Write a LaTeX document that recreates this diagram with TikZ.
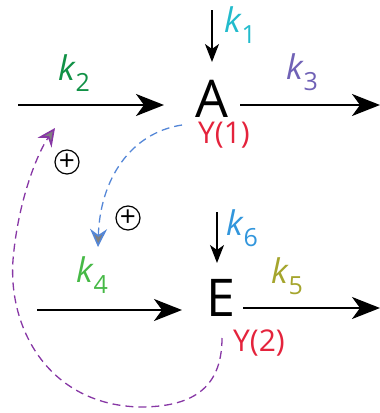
\documentclass[tikz,border=0pt]{standalone}
\usepackage{fontspec}
\setmainfont{Open Sans}
\usetikzlibrary{arrows.meta,positioning,calc}
\definecolor{kcyan}{RGB}{34,187,204}
\definecolor{kgreen}{RGB}{17,145,70}
\definecolor{kviolet}{RGB}{112,98,182}
\definecolor{klime}{RGB}{70,185,70}
\definecolor{kolive}{RGB}{165,165,45}
\definecolor{kblue}{RGB}{50,150,220}
\definecolor{yred}{RGB}{228,35,60}
\definecolor{dblue}{RGB}{85,135,215}
\definecolor{dpurple}{RGB}{135,55,165}
\newcommand{\rate}[1]{\textit{k}\raisebox{-0.6ex}{\fontsize{12.5}{12.5}\selectfont #1}}

\begin{document}
\begin{tikzpicture}[x=0.5pt,y=-0.5pt,
    species/.style={font=\fontsize{26}{26}\selectfont, inner sep=0pt},
    ratelbl/.style={font=\fontsize{17}{17}\selectfont, inner sep=0pt},
    yield/.style={font=\fontsize{15}{15}\selectfont, text=yred, inner sep=0pt},
    flux/.style={-{Stealth[length=14pt,width=11pt,inset=4pt]}, line width=1pt},
    feed/.style={-{Stealth[length=9pt,width=7pt,inset=2.5pt]}, line width=0.7pt},
    loop/.style={line width=0.65pt, dash pattern=on 4pt off 2.5pt},
    sign/.style={circle, draw, line width=0.6pt, inner sep=0pt, minimum size=12pt, font=\fontsize{14}{14}\selectfont}]
    \useasboundingbox (0,0) rectangle (380,413);
    % species
    \node[species] (A) at (212,99) {A};
    \node[species] (E) at (221,298) {E};
    \node[yield] (y1) at (224,135) {Y(1)};
    \node[yield] (y2) at (259,343) {Y(2)};
    % free ends
    \coordinate (a0) at (18,105);
    \coordinate (a1) at (164,105);
    \coordinate (ae) at (240,105);
    \coordinate (a2) at (380,105);
    \coordinate (e0) at (37,310);
    \coordinate (e1) at (182,310);
    \coordinate (ee) at (243,308);
    \coordinate (e2) at (380,308);
    \coordinate (t1) at (212,10);
    \coordinate (t1e) at (212,62);
    \coordinate (t6) at (217,212);
    \coordinate (t6e) at (217,263);
    % fluxes
    \draw[flux] (a0) -- (a1);
    \draw[flux] (ae) -- (a2);
    \draw[feed] (t1) -- (t1e);
    \draw[flux] (e0) -- (e1);
    \draw[flux] (ee) -- (e2);
    \draw[feed] (t6) -- (t6e);
    % rate labels
    \node[ratelbl, text=kcyan] (k1) at (240,25) {\rate{1}};
    \node[ratelbl, text=kgreen] (k2) at (74,73) {\rate{2}};
    \node[ratelbl, text=kviolet] (k3) at (302,72) {\rate{3}};
    \node[ratelbl, text=klime] (k4) at (92,275) {\rate{4}};
    \node[ratelbl, text=kolive] (k5) at (287,276) {\rate{5}};
    \node[ratelbl, text=kblue] (k6) at (242,228) {\rate{6}};
    % feedback
    \node[sign] (p1) at (67,162) {+};
    \node[sign] (p2) at (128,218) {+};
    \coordinate (b0) at (182,125);
    \coordinate (f1) at (98,247);
    \coordinate (c0) at (222,338);
    \coordinate (f2) at (55,128);
    \draw[loop, dblue, -{Stealth[length=9pt,width=8.5pt,inset=3pt,fill=gray,color=dblue,line width=0.8pt]}]
        (b0) .. controls (130,133) and (100,180) .. (f1);
    \draw[loop, dpurple, -{Stealth[length=9pt,width=8.5pt,inset=3pt,fill=gray,color=dpurple,line width=0.8pt]}]
        (c0) .. controls (222,390) and (190,407) .. (140,407)
        .. controls (50,405) and (8,330) .. (13,260)
        .. controls (18,200) and (38,152) .. (f2);
\end{tikzpicture}
\end{document}
